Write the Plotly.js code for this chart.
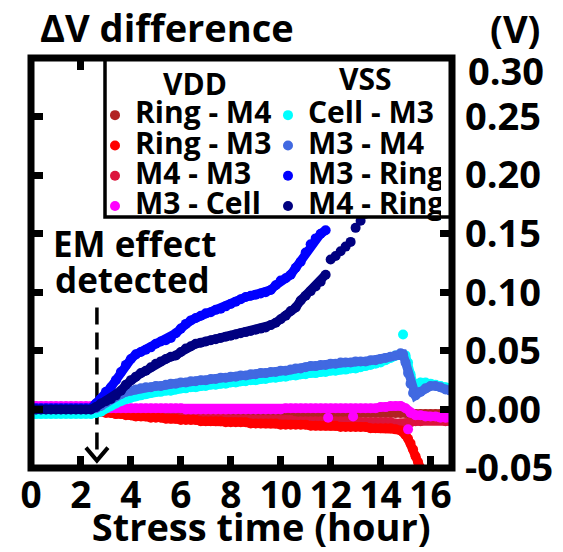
<!DOCTYPE html>
<html><head><meta charset="utf-8">
<script src="https://cdn.plot.ly/plotly-3.0.1.min.js"></script>
<style>html,body{margin:0;padding:0;background:#fff}</style>
</head><body>
<div id="chart" style="width:563px;height:552px"></div>
<script>
// ---------- data ----------
const hours = [0,0.2,0.4,0.6,0.8,1,1.2,1.4,1.6,1.8,2,2.2,2.4,2.6,2.8,3,3.2,3.4,3.6,3.8,4,4.2,4.4,4.6,4.8,5,5.2,5.4,5.6,5.8,6,6.2,6.4,6.6,6.8,7,7.2,7.4,7.6,7.8,8,8.2,8.4,8.6,8.8,9,9.2,9.4,9.6,9.8,10,10.2,10.4,10.6,10.8,11,11.2,11.4,11.6,11.8,12,12.2,12.4,12.6,12.8,13,13.2,13.4,13.6,13.8,14,14.2,14.4,14.6,14.8,15,15.2,15.4,15.6,15.8,16,16.2,16.4,16.6,16.8];
const tailHours = [14.9,15,15.1,15.2,15.3,15.4,15.6,15.8,16,16.2,16.4,16.6,16.8];
const redTailHours = [14.9,15,15.1,15.2,15.3,15.4,15.5,15.6,15.7];
const magentaExtraHours = [11.9,12.9,15.1];

const ringM4 = [0,0,0,0,0,0,0,0,0,0,0,0,0,
 -0.001,-0.001,-0.001,-0.001,-0.001,-0.001,-0.001,-0.001,
 -0.001,-0.001,-0.001,-0.001,-0.001,-0.002,-0.002,-0.002,-0.002,-0.002,
 -0.002,-0.002,-0.002,-0.002,-0.002,-0.002,-0.002,-0.002,-0.002,-0.002,
 -0.002,-0.002,-0.002,-0.002,-0.002,-0.002,-0.002,-0.002,-0.002,-0.002,
 -0.003,-0.003,-0.003,-0.003,-0.003,-0.003,-0.003,-0.003,-0.003,-0.003,
 -0.003,-0.003,-0.003,-0.003,-0.003,-0.003,-0.003,-0.003,-0.003,-0.003,
 -0.003,-0.003,-0.003,-0.003,-0.003,-0.004,-0.004,-0.004,-0.004,-0.004,-0.004,-0.004,-0.004,-0.004];

const ringM3 = [0,0,0,0,0,0,0,0,0,0,0,0,0,
 -0.001,-0.002,-0.003,-0.003,-0.004,-0.004,-0.005,-0.005,
 -0.006,-0.006,-0.006,-0.007,-0.007,-0.007,-0.008,-0.008,-0.008,-0.009,
 -0.009,-0.009,-0.009,-0.010,-0.010,-0.010,-0.010,-0.010,-0.011,-0.011,
 -0.011,-0.011,-0.011,-0.012,-0.012,-0.012,-0.012,-0.012,-0.012,-0.013,
 -0.013,-0.013,-0.013,-0.013,-0.013,-0.014,-0.014,-0.014,-0.014,-0.014,
 -0.014,-0.015,-0.015,-0.015,-0.015,-0.015,-0.015,-0.016,-0.016,-0.016,
 -0.016,-0.016,-0.017,-0.018];
const ringM3Tail = [-0.019,-0.022,-0.025,-0.029,-0.034,-0.040,-0.045,-0.050,-0.055];

const m4M3 = [0,0,0,0,0,0,0,0,0,0,0,0,0,
 -0.001,-0.001,-0.002,-0.002,-0.003,-0.003,-0.004,-0.004,
 -0.004,-0.005,-0.005,-0.005,-0.006,-0.006,-0.006,-0.006,-0.007,-0.007,
 -0.007,-0.007,-0.007,-0.008,-0.008,-0.008,-0.008,-0.008,-0.008,-0.009,
 -0.009,-0.009,-0.009,-0.009,-0.009,-0.009,-0.009,-0.009,-0.009,-0.009,
 -0.009,-0.009,-0.010,-0.010,-0.010,-0.010,-0.010,-0.010,-0.010,-0.010,
 -0.010,-0.010,-0.010,-0.010,-0.010,-0.011,-0.011,-0.011,-0.011,-0.011,
 -0.011,-0.011,-0.012,-0.012,-0.012,-0.011,-0.010,-0.010,-0.009,-0.009,-0.009,-0.009,-0.010,-0.010];

const m3Cell = [0.003,0.003,0.003,0.003,0.003,0.003,0.003,0.003,0.003,0.003,0.003,0.003,0.003,
 0.002,0.001,0.001,
 0.001,0.001,0.001,0.001,0.001,0.001,0.001,0.001,0.001,0.001,0.001,0.001,0.001,0.001,0.001,
 0,0,0,0,0,0,0,0,0,0,0,0,0,0,0,0,0,0,0,0,
 0.001,0.001,0.001,0.001,0.001,0.001,0.001,0.001,0.001,0.001,0.001,0.001,0.001,0.001,0.001,0.001,0.001,0.001,0.001,
 0.002,0.002,0.003,0.003,0.003,0.001,-0.003,-0.005,-0.005,-0.006,-0.006,-0.006,-0.007,-0.007,-0.007];
const m3CellExtra = [-0.007,-0.006,-0.017];

const cellM3 = [-0.004,-0.004,-0.004,-0.004,-0.004,-0.004,-0.004,-0.004,-0.004,-0.004,-0.004,-0.004,-0.004,
 -0.003,-0.002,0.001,0.003,0.005,0.007,0.009,0.010,0.011,0.012,0.013,0.014,0.015,0.015,0.016,0.016,0.017,0.018,
 0.018,0.019,0.019,0.020,0.020,0.021,0.021,0.022,0.022,0.023,0.023,0.024,0.024,0.025,0.025,0.026,0.026,0.027,0.027,0.028,
 0.028,0.029,0.029,0.030,0.030,0.031,0.031,0.032,0.032,0.033,0.033,0.034,0.034,0.035,0.035,0.036,0.037,0.038,0.039,0.040,
 0.042,0.044,0.046,0.047];
const cellM3Tail = [0.064,0.046,0.040,0.030,0.022,0.021,0.023,0.023,0.022,0.021,0.020,0.019,0.018];

const m3M4 = [0,0,0,0,0,0,0,0,0,0,0,0,0,
 0.001,0.003,0.006,0.009,0.011,0.013,0.015,0.016,0.017,0.018,0.019,0.019,0.020,0.020,0.021,0.022,0.022,0.023,
 0.023,0.024,0.024,0.025,0.025,0.026,0.026,0.027,0.027,0.028,0.028,0.029,0.029,0.030,0.030,0.031,0.031,0.032,0.032,0.033,
 0.033,0.034,0.035,0.035,0.036,0.037,0.037,0.038,0.038,0.039,0.039,0.040,0.040,0.040,0.041,0.041,0.041,0.042,0.042,0.043,
 0.044,0.045,0.046,0.048];
const m3M4Tail = [0.047,0.040,0.031,0.022,0.014,0.012,0.015,0.018,0.020,0.020,0.019,0.017,0.016];

const m3Ring = [0.001,0.001,0.001,0.001,0.001,0.001,0.001,0.001,0.001,0.001,0.001,0.001,0.001,
 0.005,0.009,0.015,0.019,0.025,0.032,0.038,0.043,0.047,0.049,0.051,0.053,0.056,0.058,0.059,0.061,0.065,0.069,
 0.073,0.076,0.078,0.080,0.082,0.083,0.085,0.086,0.088,0.090,0.092,0.094,0.096,0.097,0.098,0.099,0.100,0.102,0.106,0.110,
 0.112,0.115,0.121,0.126,0.134,0.141,0.146,0.150,0.153];

const m4Ring = [0,0,0,0,0,0,0,0,0,0,0,0,0,
 0.002,0.005,0.007,0.009,0.012,0.016,0.021,0.025,0.028,0.031,0.033,0.036,0.039,0.041,0.043,0.045,0.046,0.049,
 0.052,0.054,0.056,0.057,0.058,0.059,0.060,0.061,0.062,0.063,0.064,0.065,0.066,0.067,0.068,0.069,0.070,0.072,0.074,0.077,
 0.080,0.084,0.087,0.093,0.097,0.101,0.105,0.109,0.115,0.128,0.131,0.135,0.139,0.143,0.155,0.161,0.167,0.173,0.179];

const hourTicks = [0,2,4,6,8,10,12,14,16];
const hourTickText = ['0','2','4','6','8','10','12','14','16'];
const voltTicks = [-0.05,0,0.05,0.10,0.15,0.20,0.25,0.30];
const voltTickText = ['-0.05','0.00','0.05','0.10','0.15','0.20','0.25','0.30'];
const emDetectTime = 2.64;

// ---------- layout geometry (pixels) ----------
const W = 563, H = 552;
const PL = 31, PR = 452, PT = 58, PB = 468;
const px = v => (v - PL) / (PR - PL);
const py = v => (PB - v) / (PB - PT);

const FONT = 'Open Sans';
const bold = (size) => ({family: FONT, size: size, weight: 700, color: '#000'});
const leg = (t) => '<span style="font-size:30px">' + t + '</span>';

// marker series (with legend entry) and a thick connecting band underneath (no legend)
function series(x, y, name, color, rank) {
  return {type: 'scatter', mode: 'markers', x: x, y: y, name: leg(name), legendrank: rank,
          marker: {color: color, size: 10, line: {width: 0}}, hoverinfo: 'skip'};
}
function band(x, y, color) {
  return {type: 'scatter', mode: 'lines', x: x, y: y, showlegend: false,
          line: {color: color, width: 9}, hoverinfo: 'skip'};
}

const C = {ringM4: '#B22222', m4M3: '#DC143C', ringM3: '#FF0000', m3Cell: '#FF00FF',
           cellM3: '#00FFFF', m3M4: '#4169E1', m3Ring: '#0000FF', m4Ring: '#000080'};

const xRed = hours.slice(0, 75).concat(redTailHours), yRed = ringM3.concat(ringM3Tail);
const xTail = hours.slice(0, 75).concat(tailHours);

const data = [
  band(hours, ringM4, C.ringM4),
  series(hours, ringM4, 'Ring - M4', C.ringM4, 1),
  band(hours, m4M3, C.m4M3),
  series(hours, m4M3, 'M4 - M3', C.m4M3, 5),
  band(xRed, yRed, C.ringM3),
  series(xRed, yRed, 'Ring - M3', C.ringM3, 3),
  band(hours, m3Cell, C.m3Cell),
  series(hours.concat(magentaExtraHours), m3Cell.concat(m3CellExtra), 'M3 - Cell', C.m3Cell, 7),
  band(hours.slice(0, 75).concat(tailHours.slice(1)), cellM3.concat(cellM3Tail.slice(1)), C.cellM3),
  series(xTail, cellM3.concat(cellM3Tail), 'Cell - M3', C.cellM3, 2),
  band(xTail, m3M4.concat(m3M4Tail), C.m3M4),
  series(xTail, m3M4.concat(m3M4Tail), 'M3 - M4', C.m3M4, 4),
  band(hours.slice(0, 60), m3Ring, C.m3Ring),
  series(hours.slice(0, 60), m3Ring, 'M3 - Ring', C.m3Ring, 6),
  band(hours.slice(0, 60), m4Ring.slice(0, 60), C.m4Ring),
  series(hours.slice(0, 70), m4Ring, 'M4 - Ring', C.m4Ring, 8)
];

const yTickText = voltTickText.slice(0, 7).concat(['']);

const layout = {
  width: W, height: H,
  margin: {l: PL, r: W - PR, t: PT, b: H - PB, pad: 0},
  paper_bgcolor: '#fff', plot_bgcolor: '#fff',
  font: bold(38),
  showlegend: true,
  title: {text: 'ΔV difference', font: bold(38), xref: 'container', x: 40 / W, xanchor: 'left',
          yref: 'container', y: 1 - 29 / H, yanchor: 'middle'},
  xaxis: {range: [0, 16.86], tickmode: 'array', tickvals: hourTicks, ticktext: hourTickText,
          ticks: 'inside', ticklen: 12, tickwidth: 7, tickcolor: '#000', mirror: 'ticks',
          showline: false, showgrid: false, zeroline: false, tickfont: bold(37), ticklabelstandoff: 2,
          title: {text: '&nbsp;&nbsp;&nbsp;&nbsp;Stress time (hour)', font: bold(38), standoff: 0},
          fixedrange: true},
  yaxis: {range: [-0.05, 0.30], side: 'right', tickmode: 'array', tickvals: voltTicks, ticktext: yTickText,
          ticks: 'inside', ticklen: 12, tickwidth: 7, tickcolor: '#000', mirror: 'ticks',
          showline: false, showgrid: false, zeroline: false, tickfont: bold(38), ticklabelstandoff: 12,
          fixedrange: true},
  legend: {orientation: 'h', x: px(95), xanchor: 'left', y: py(95), yanchor: 'top',
           entrywidth: 128, entrywidthmode: 'pixels', font: bold(21),
           bgcolor: 'rgba(0,0,0,0)', borderwidth: 0, traceorder: 'normal'},
  shapes: [
    {type: 'line', xref: 'x', yref: 'y', x0: emDetectTime, x1: emDetectTime, y0: 0.087, y1: -0.039,
     line: {color: '#000', width: 3.5, dash: '17px,8px'}, layer: 'below'},
    {type: 'path', xref: 'x', yref: 'y', xsizemode: 'pixel', ysizemode: 'pixel',
     xanchor: emDetectTime, yanchor: -0.0437, path: 'M-11,13 L0,0 L11,13',
     line: {color: '#000', width: 4}, layer: 'above'},
    {type: 'rect', xref: 'paper', yref: 'paper', x0: px(105), x1: 1, y0: py(217), y1: 1,
     line: {color: '#000', width: 3.5}, fillcolor: '#fff', layer: 'above'},
    {type: 'rect', xref: 'paper', yref: 'paper', x0: 0, x1: 1, y0: 0, y1: 1,
     line: {color: '#000', width: 7}, fillcolor: 'rgba(0,0,0,0)', layer: 'above'}
  ],
  annotations: [
    {text: '(V)', xref: 'paper', yref: 'paper', x: px(515), y: py(28), xanchor: 'center', yanchor: 'middle', showarrow: false, font: bold(38)},
    {text: voltTickText[7], xref: 'paper', yref: 'paper', x: px(466), y: py(70), xanchor: 'left', yanchor: 'middle', showarrow: false, font: bold(38)},
    {text: 'VDD', xref: 'paper', yref: 'paper', x: px(194.5), y: py(83), xanchor: 'center', yanchor: 'middle', showarrow: false, font: bold(30)},
    {text: 'VSS', xref: 'paper', yref: 'paper', x: px(365.5), y: py(78), xanchor: 'center', yanchor: 'middle', showarrow: false, font: bold(30)},
    {text: 'EM effect', xref: 'paper', yref: 'paper', x: px(51), y: py(244), xanchor: 'left', yanchor: 'middle', showarrow: false, font: bold(35)},
    {text: 'detected', xref: 'paper', yref: 'paper', x: px(53), y: py(279), xanchor: 'left', yanchor: 'middle', showarrow: false, font: bold(35)}
  ]
};

Plotly.newPlot('chart', data, layout, {staticPlot: true, displayModeBar: false});
</script>
</body></html>
